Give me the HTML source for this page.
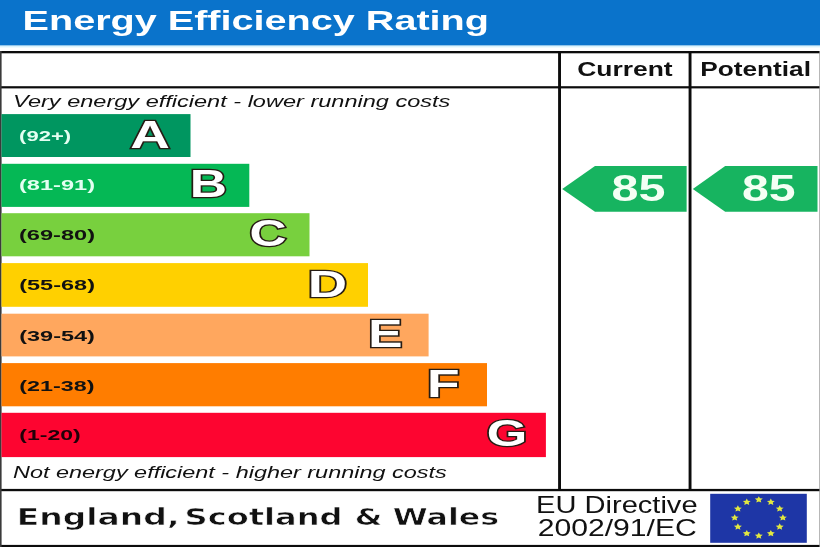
<!DOCTYPE html>
<html>
<head>
<meta charset="utf-8">
<title>Energy Efficiency Rating</title>
<style>
html,body{margin:0;padding:0;background:#fff;}
body{width:820px;height:547px;overflow:hidden;}
svg{display:block;}
text{font-family:"Liberation Sans",Arial,sans-serif;}
.b{font-weight:bold;}
.i{font-style:italic;}
.dv{font-family:"DejaVu Sans",Verdana,sans-serif;font-weight:bold;stroke:#fff;stroke-width:0.55px;}
.lt{font-weight:bold;fill:#fff;stroke:#261c14;stroke-width:2.6px;paint-order:stroke fill;stroke-linejoin:miter;}
</style>
</head>
<body>
<svg width="820" height="547" viewBox="0 0 820 547">
  <rect x="0" y="0" width="820" height="547" fill="#ffffff"/>
  <!-- header -->
  <rect x="0" y="0" width="820" height="45.6" fill="#0a73cb"/>
  <rect x="0" y="45.6" width="820" height="1.2" fill="#cdeef9"/>
  <rect x="0" y="46.8" width="820" height="1.2" fill="#effafd"/>
  <text class="b" transform="translate(22.53,29.90) scale(1.4192,1)" font-size="27.90" fill="#fff">Energy Efficiency Rating</text>

  <!-- frame lines -->
  <g fill="#0c0c0c">
    <rect x="0" y="51" width="820" height="2.3"/>
    <rect x="0" y="86.2" width="820" height="2.2"/>
    <rect x="0" y="488.9" width="820" height="2.3"/>
    <rect x="0" y="544.9" width="820" height="2.1"/>
    <rect x="0" y="51" width="1.6" height="496" fill="#3a3a3a"/>
    <rect x="819.3" y="51" width="0.7" height="496" fill="#999"/>
    <rect x="558.1" y="51" width="2.9" height="439"/>
    <rect x="688.6" y="51" width="2.9" height="439"/>
  </g>

  <!-- column headers -->
  <text class="b" transform="translate(577.14,76.00) scale(1.3230,1)" font-size="20.00" fill="#111">Current</text>
  <text class="b" transform="translate(700.16,76.00) scale(1.3137,1)" font-size="20.00" fill="#111">Potential</text>

  <!-- captions -->
  <text class="i" transform="translate(13.08,106.50) scale(1.3930,1)" font-size="16.90" fill="#111">Very energy efficient - lower running costs</text>
  <text class="i" transform="translate(13.00,477.60) scale(1.3873,1)" font-size="16.90" fill="#111">Not energy efficient - higher running costs</text>

  <!-- bars -->
  <rect x="1.5" y="114.1" width="189" height="42.9" fill="#009660"/>
  <rect x="1.5" y="163.8" width="247.8" height="43.1" fill="#05b855"/>
  <rect x="1.5" y="213.2" width="308" height="43.1" fill="#78d03e"/>
  <rect x="1.5" y="263.1" width="366.5" height="43.7" fill="#ffd000"/>
  <rect x="1.5" y="313.7" width="427.1" height="42.7" fill="#ffa75e"/>
  <rect x="1.5" y="363.1" width="485.5" height="43.2" fill="#ff7d00"/>
  <rect x="1.5" y="412.8" width="544.4" height="44.3" fill="#fd0530"/>

  <!-- range labels -->
  <g class="b">
    <text transform="translate(19.10,141.00) scale(1.4402,1)" font-size="15.30" fill="#e4fff2">(92+)</text>
    <text transform="translate(19.02,189.50) scale(1.5418,1)" font-size="15.30" fill="#e4fff2">(81-91)</text>
    <text transform="translate(19.02,239.90) scale(1.5418,1)" font-size="15.30" fill="#111">(69-80)</text>
    <text transform="translate(19.22,290.30) scale(1.5376,1)" font-size="15.30" fill="#111">(55-68)</text>
    <text transform="translate(19.23,340.60) scale(1.5355,1)" font-size="15.30" fill="#111">(39-54)</text>
    <text transform="translate(19.23,391.10) scale(1.5251,1)" font-size="15.30" fill="#111">(21-38)</text>
    <text transform="translate(19.25,440.30) scale(1.5056,1)" font-size="15.30" fill="#200008">(1-20)</text>
  </g>

  <!-- big letters -->
  <g class="lt">
    <text transform="translate(130.20,147.89) scale(1.4186,1)" font-size="38.68">A</text>
    <text transform="translate(189.84,197.30) scale(1.3493,1)" font-size="38.26">B</text>
    <text transform="translate(249.44,246.13) scale(1.3822,1)" font-size="37.18">C</text>
    <text transform="translate(307.75,296.50) scale(1.4684,1)" font-size="37.10">D</text>
    <text transform="translate(368.14,347.30) scale(1.3312,1)" font-size="38.55">E</text>
    <text transform="translate(426.89,396.70) scale(1.3990,1)" font-size="38.12">F</text>
    <text transform="translate(486.77,446.13) scale(1.3909,1)" font-size="37.46">G</text>
  </g>

  <!-- rating arrows -->
  <polygon points="562.2,189 595,166.1 686.6,166.1 686.6,211.7 595,211.7" fill="#17b460"/>
  <polygon points="692.8,189 725.2,166.1 817.5,166.1 817.5,211.7 725.2,211.7" fill="#17b460"/>
  <text class="b" transform="translate(611.55,201.20) scale(1.3391,1)" font-size="36.20" fill="#f4fff4">85</text>
  <text class="b" transform="translate(742.05,201.20) scale(1.3312,1)" font-size="36.20" fill="#f4fff4">85</text>

  <!-- footer -->
  <text class="dv" transform="translate(16.63,524.80) scale(1.4099,1)" font-size="23.40" fill="#111">England,</text>
  <text class="dv" transform="translate(184.55,524.80) scale(1.3725,1)" font-size="23.40" fill="#111">Scotland</text>
  <text class="dv" transform="translate(354.71,524.80) scale(1.3495,1)" font-size="23.40" fill="#111">&amp;</text>
  <text class="dv" transform="translate(392.75,524.80) scale(1.3550,1)" font-size="23.40" fill="#111">Wales</text>
  <text transform="translate(536.07,512.80) scale(1.2643,1)" font-size="23.00" fill="#111">EU Directive</text>
  <text transform="translate(537.69,536.30) scale(1.3110,1)" font-size="23.00" fill="#111">2002/91/EC</text>

  <!-- EU flag -->
  <rect x="710.2" y="493.8" width="96.6" height="49" fill="#1e36a6"/>
  <g fill="#e2e840">
    <polygon points="758.8,496.2 760.0,498.3 762.8,498.6 760.7,500.2 761.3,502.5 758.8,501.4 756.3,502.5 756.9,500.2 754.8,498.6 757.6,498.3"/>
    <polygon points="770.8,498.6 772.0,500.8 774.8,501.0 772.8,502.6 773.3,505.0 770.8,503.8 768.4,505.0 768.9,502.6 766.9,501.0 769.7,500.8"/>
    <polygon points="779.7,505.2 780.9,507.4 783.7,507.7 781.6,509.3 782.1,511.6 779.7,510.4 777.2,511.6 777.8,509.3 775.7,507.7 778.5,507.4"/>
    <polygon points="782.9,514.3 784.1,516.4 786.9,516.7 784.8,518.3 785.4,520.6 782.9,519.5 780.4,520.6 781.0,518.3 778.9,516.7 781.7,516.4"/>
    <polygon points="779.7,523.3 780.9,525.5 783.7,525.8 781.6,527.4 782.1,529.7 779.7,528.5 777.2,529.7 777.8,527.4 775.7,525.8 778.5,525.5"/>
    <polygon points="770.8,530.0 772.0,532.1 774.8,532.4 772.8,534.0 773.3,536.3 770.8,535.2 768.4,536.3 768.9,534.0 766.9,532.4 769.7,532.1"/>
    <polygon points="758.8,532.4 760.0,534.5 762.8,534.8 760.7,536.4 761.3,538.7 758.8,537.6 756.3,538.7 756.9,536.4 754.8,534.8 757.6,534.5"/>
    <polygon points="746.8,530.0 747.9,532.1 750.7,532.4 748.7,534.0 749.2,536.3 746.8,535.2 744.3,536.3 744.8,534.0 742.8,532.4 745.6,532.1"/>
    <polygon points="737.9,523.3 739.1,525.5 741.9,525.8 739.8,527.4 740.4,529.7 737.9,528.5 735.5,529.7 736.0,527.4 733.9,525.8 736.7,525.5"/>
    <polygon points="734.7,514.3 735.9,516.4 738.7,516.7 736.6,518.3 737.2,520.6 734.7,519.5 732.2,520.6 732.8,518.3 730.7,516.7 733.5,516.4"/>
    <polygon points="737.9,505.2 739.1,507.4 741.9,507.7 739.8,509.3 740.4,511.6 737.9,510.4 735.5,511.6 736.0,509.3 733.9,507.7 736.7,507.4"/>
    <polygon points="746.8,498.6 747.9,500.8 750.7,501.0 748.7,502.6 749.2,505.0 746.8,503.8 744.3,505.0 744.8,502.6 742.8,501.0 745.6,500.8"/>
  </g>
</svg>
</body>
</html>
